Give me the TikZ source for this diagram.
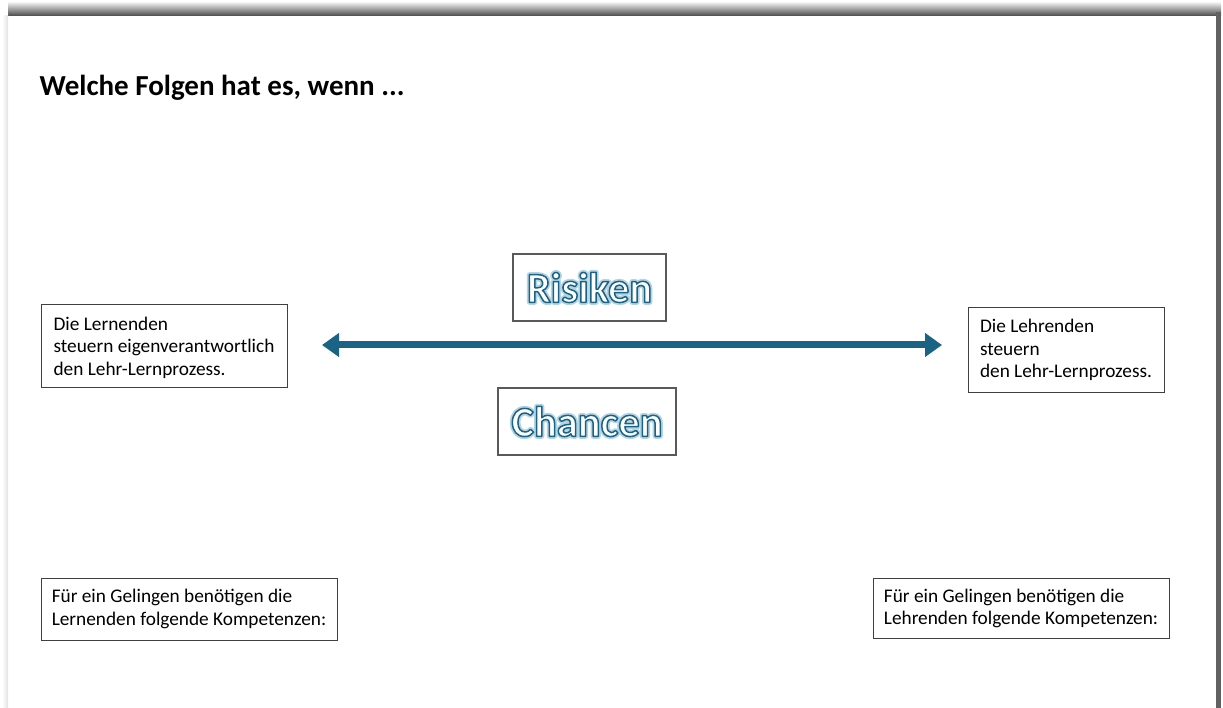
\documentclass[tikz,border=0pt]{standalone}
\usepackage{fontspec}
\setmainfont{Carlito}
\usetikzlibrary{arrows.meta}
\definecolor{arrowblue}{HTML}{1B6385}
\definecolor{glowblue}{HTML}{B5D3E3}
\tikzset{
  textbox/.style={draw=black!75, line width=1pt, align=left, inner sep=0pt,
    font=\fontsize{19.3}{22.8}\selectfont, anchor=center},
  wordbox/.style={draw=black!65, line width=1.4pt, inner sep=0pt},
  biglabel/.style={font=\fontsize{42.5}{42.5}\bfseries\selectfont}
}
% outlined words: text render mode 2 (fill and stroke)
\newcommand{\glowword}[1]{{\color{glowblue}%
  \special{pdf:literal direct 2 Tr 5 w 0.71 0.83 0.89 RG 1 j}#1\special{pdf:literal direct 0 Tr 1 w}}}
\newcommand{\rimword}[1]{{\color{white}%
  \special{pdf:literal direct 2 Tr 1.5 w 0.106 0.388 0.522 RG 1 j}#1\special{pdf:literal direct 0 Tr 1 w}}}
\begin{document}
\begin{tikzpicture}[x=1pt,y=-1pt]
  \useasboundingbox (0,0) rectangle (1223,708);
  % page and its shadow
  \fill[white] (0,0) rectangle (1223,708);
  \shade[top color=white!96!black, bottom color=black!72] (8,2) rectangle (1221,16);
  \fill[black!62] (1216,12) rectangle (1221,708);
  \shade[left color=white, right color=black!12] (2,16) rectangle (8,708);

  \node[anchor=base west, font=\fontsize{29}{33}\bfseries\selectfont] (title) at (36,96) {Welche Folgen hat es, wenn ...};

  \node[textbox, minimum width=246pt, minimum height=82pt] (lernende) at (164,346)
    {\rule{0pt}{17pt}Die Lernenden\\steuern eigenverantwortlich\\den Lehr-Lernprozess.};
  \node[textbox, minimum width=196pt, minimum height=84pt] (lehrende) at (1066,350)
    {Die Lehrenden\\steuern\\den Lehr-Lernprozess.};

  \node[wordbox, minimum width=153pt, minimum height=67pt] (risikenbox) at (589.5,287.5) {};
  \node[biglabel] (risikenglow) at (589.5,287.5) {\glowword{Risiken}};
  \node[biglabel] (risiken) at (589.5,287.5) {\rimword{Risiken}};
  \node[wordbox, minimum width=178pt, minimum height=67pt] (chancenbox) at (587,421.5) {};
  \node[biglabel] (chancenglow) at (587,421.5) {\glowword{Chancen}};
  \node[biglabel] (chancen) at (587,421.5) {\rimword{Chancen}};

  \coordinate (links) at (322,345);
  \coordinate (rechts) at (942,345);
  \draw[arrowblue, line width=7pt, {Triangle[length=17pt,width=23pt]}-{Triangle[length=17pt,width=23pt]}] (links) to (rechts);

  \node[textbox, minimum width=296pt, minimum height=62pt] (kompl) at (189,609)
    {Für ein Gelingen benötigen die\\Lernenden folgende Kompetenzen:};
  \node[textbox, minimum width=296pt, minimum height=60pt] (kompr) at (1021,608.5)
    {Für ein Gelingen benötigen die\\Lehrenden folgende Kompetenzen:};
\end{tikzpicture}
\end{document}
